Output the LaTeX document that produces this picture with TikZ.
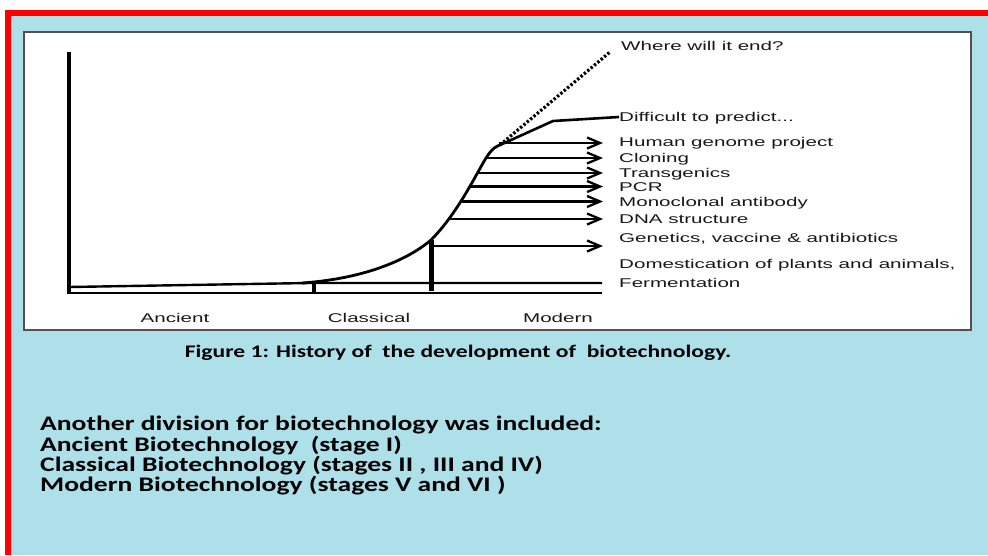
\documentclass[tikz,border=0pt]{standalone}
\usepackage{fontspec}
\setmainfont{Liberation Sans}
\newfontfamily\figfont[FakeStretch=1.62]{Liberation Sans}
\newfontfamily\slidefont[FakeStretch=1.333]{Carlito}
\usetikzlibrary{arrows.meta}
\definecolor{bgcyan}{RGB}{174,224,233}
\definecolor{framered}{RGB}{255,0,0}
\definecolor{panelgray}{RGB}{80,80,80}
\definecolor{inkgray}{RGB}{25,25,25}
\tikzset{
  flab/.style={font=\figfont\fontsize{12.7}{14}\selectfont, text=inkgray, anchor=west, inner sep=0pt, text height=9pt, text depth=0pt},
  axlab/.style={font=\figfont\fontsize{12.7}{14}\selectfont, text=inkgray, anchor=center, inner sep=0pt, text height=9pt, text depth=0pt},
  slidetxt/.style={font=\slidefont\bfseries\fontsize{20.7}{24}\selectfont, anchor=west, inner sep=0pt, text height=13.3pt, text depth=0pt},
  captxt/.style={font=\slidefont\bfseries\fontsize{17.7}{22}\selectfont, anchor=center, inner sep=0pt, text height=11.4pt, text depth=0pt},
  arr/.style={line width=2.3pt, -{Straight Barb[length=13pt,width=11pt]}},
  baseline/.style={line width=2.4pt},
}
\begin{document}
\begin{tikzpicture}[x=1pt,y=-1pt]
\path[use as bounding box] (0,0) rectangle (988,555);
\clip (0,0) rectangle (988,555);
\fill[white] (0,0) rectangle (988,555);
\fill[framered] (5,10) rectangle (988,555);
\fill[bgcyan] (11,16) rectangle (988,555);
\draw[panelgray, line width=1.2pt, fill=white] (24,32) rectangle (971,330);

% coordinates
\coordinate (o) at (69,293);
\coordinate (top) at (69,52);
\coordinate (xend) at (602,293);
\coordinate (f0) at (69,287);
\coordinate (f1) at (309,283);
\coordinate (fend) at (602,283);
\coordinate (tk1) at (314,283);
\coordinate (tk2) at (314,293);
\coordinate (g1) at (431,240);
\coordinate (g2) at (431,291);
\coordinate (c0) at (302,283);
\coordinate (peak) at (500,145);
\coordinate (knee) at (553,121);
\coordinate (dend) at (610,52);

% axes and base lines
\draw[line width=3.4pt] (top) -- (69,294.2);
\draw[baseline] (o) -- (xend);
\draw[baseline] (f0) -- (f1) -- (fend);
\draw[line width=4pt] (tk1) -- (tk2);
\draw[line width=5pt] (g1) -- (g2);

% growth curve
\draw[line width=2.8pt, line join=round]
  (c0) .. controls (360,279) and (405,262) .. (g1)
       .. controls (452,219) and (468,190) .. (478,172)
       .. controls (487,156) and (491,148) .. (peak);

% labels
\node[flab] (where) at (621,46) {Where will it end?};
\node[flab] (diff) at (619,117) {Difficult to predict...};
\node[flab] (hgp) at (619,142) {Human genome project};
\node[flab] (clon) at (619,158) {Cloning};
\node[flab] (trans) at (619,173) {Transgenics};
\node[flab] (pcr) at (619,186.5) {PCR};
\node[flab] (mono) at (619,201.5) {Monoclonal antibody};
\node[flab] (dna) at (619,219) {DNA structure};
\node[flab] (gen) at (619,238) {Genetics, vaccine \& antibiotics};
\node[flab] (dom) at (619,264) {Domestication of plants and animals,};
\node[flab] (ferm) at (619,283) {Fermentation};

\node[axlab] (anc) at (175,318) {Ancient};
\node[axlab] (cls) at (369,318) {Classical};
\node[axlab] (mod) at (558,318) {Modern};

% futures
\draw[line width=2.6pt, line join=round] (peak) -- (knee) -- (diff.west);
\draw[line width=3.2pt, dash pattern=on 2.4pt off 2pt] (peak) -- (dend);

% arrows
\coordinate (a1) at (499,143);
\coordinate (a2) at (486,158);
\coordinate (a3) at (477,173);
\coordinate (a4) at (470,186.5);
\coordinate (a5) at (462,201.5);
\coordinate (a6) at (449,219);
\coordinate (a7) at (431,246);
\foreach \s/\y in {a1/143, a2/158, a3/173, a4/186.5, a5/201.5, a6/219, a7/246} {
  \coordinate (e-\s) at (603,\y);
  \draw[arr] (\s) -- (e-\s);
}

% slide text
\node[captxt] (cap) at (458,352) {Figure 1: History of\ \ the development of\ \ biotechnology.};
\node[slidetxt] (l1) at (40,424) {Another division for biotechnology was included:};
\node[slidetxt] (l2) at (40,444.5) {Ancient Biotechnology\ \ (stage I)};
\node[slidetxt] (l3) at (40,464.5) {Classical Biotechnology (stages II , III and IV)};
\node[slidetxt] (l4) at (40,485) {Modern Biotechnology (stages V and VI )};
\end{tikzpicture}
\end{document}
